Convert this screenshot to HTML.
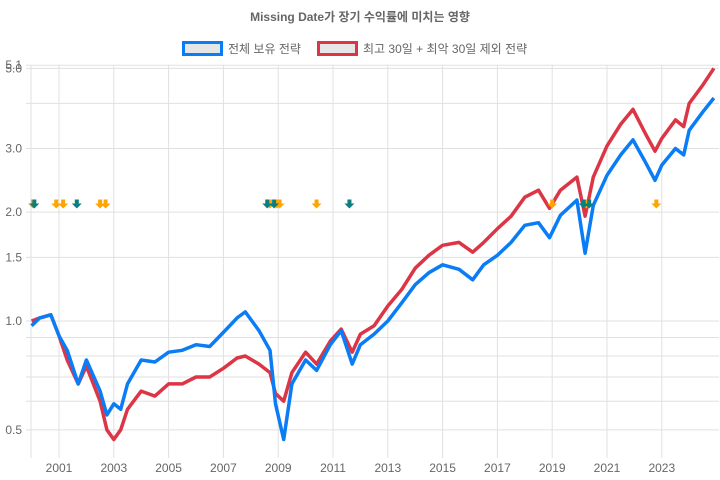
<!DOCTYPE html>
<html><head><meta charset="utf-8"><style>
html,body{margin:0;padding:0;background:#fff;}
svg{display:block;font-family:"Liberation Sans","Noto Sans CJK KR",sans-serif;}
</style></head><body>
<svg id="chart" width="720" height="480" viewBox="0 0 720 480">
<text x="360" y="21" text-anchor="middle" font-size="12" font-weight="bold" fill="#666">Missing Date가 장기 수익률에 미치는 영향</text>
<g>
<g>
<rect x="183.5" y="42.5" width="38" height="12" fill="#e6e6e6" stroke="#0a7cf5" stroke-width="3"/>
<text x="228" y="53" font-size="12" fill="#666">전체 보유 전략</text></g>
<g>
<rect x="318.5" y="42.5" width="38" height="12" fill="#e6e6e6" stroke="#dc3545" stroke-width="3"/>
<text x="363" y="53" font-size="12" fill="#666">최고 30일 + 최악 30일 제외 전략</text></g>
</g>
<g id="grid"></g><g id="lines"></g><g id="marks"></g><g id="axes"></g>
</svg>
<script>
const yTickVals=[0.5,0.6,0.7,0.8,0.9,1.0,1.5,2.0,3.0,4.0,5.0,5.1];
const yTickLabels=["0.5","","","","","1.0","1.5","2.0","3.0","","5.0","5.1"];
const xTickYears=[2001,2003,2005,2007,2009,2011,2013,2015,2017,2019,2021,2023];
const dates=[2000.0,2000.3,2000.7,2001.0,2001.3,2001.7,2002.0,2002.5,2002.75,2003.0,2003.25,2003.5,2004.0,2004.5,2005.0,2005.5,2006.0,2006.5,2007.0,2007.5,2007.8,2008.3,2008.7,2008.9,2009.2,2009.5,2010.0,2010.4,2010.9,2011.3,2011.7,2012.0,2012.5,2013.0,2013.5,2014.0,2014.5,2015.0,2015.6,2016.1,2016.5,2017.0,2017.5,2018.0,2018.5,2018.9,2019.3,2019.9,2020.2,2020.5,2021.0,2021.5,2021.95,2022.4,2022.75,2023.0,2023.5,2023.8,2024.0,2024.5,2024.9];
const buyHold=[0.97,1.02,1.04,0.91,0.83,0.67,0.78,0.64,0.55,0.59,0.57,0.67,0.78,0.77,0.82,0.83,0.86,0.85,0.93,1.02,1.06,0.94,0.83,0.59,0.47,0.67,0.78,0.73,0.86,0.94,0.76,0.86,0.92,1.0,1.12,1.26,1.36,1.43,1.39,1.30,1.43,1.52,1.65,1.84,1.87,1.70,1.96,2.16,1.54,2.09,2.53,2.88,3.17,2.75,2.45,2.70,3.0,2.88,3.37,3.79,4.14];
const excluded=[1.0,1.02,1.04,0.91,0.78,0.67,0.75,0.6,0.5,0.47,0.5,0.57,0.64,0.62,0.67,0.67,0.70,0.70,0.74,0.79,0.80,0.76,0.72,0.63,0.60,0.72,0.82,0.76,0.88,0.95,0.82,0.92,0.97,1.10,1.22,1.40,1.52,1.62,1.65,1.55,1.65,1.80,1.95,2.2,2.3,2.05,2.3,2.5,1.95,2.5,3.05,3.5,3.85,3.3,2.95,3.2,3.6,3.45,4.0,4.5,5.0];
const bestDays=[2000.05,2000.9,2001.15,2002.5,2002.7,2008.7,2008.95,2009.05,2010.4,2019.0,2020.25,2022.8];
const worstDays=[2000.1,2001.65,2008.6,2008.85,2011.6,2020.15,2020.35];
const markerValue=2.1;

const NS="http://www.w3.org/2000/svg";
const X0=31.6,PXY=27.4,L=31,R=719,T=65,B=452;
const xs=d=>X0+(d-2000)*PXY;
const ys=v=>321-Math.log(v)*157;
function mk(tag,attrs,parent){const e=document.createElementNS(NS,tag);for(const k in attrs)e.setAttribute(k,attrs[k]);parent.appendChild(e);return e;}
const grid=document.getElementById('grid'),axes=document.getElementById('axes'),lines=document.getElementById('lines'),marks=document.getElementById('marks');
yTickVals.forEach((v,i)=>{
  const y=ys(v);
  const g=mk('line',{x1:L-5,x2:R,y1:y,y2:y,stroke:'#e0e0e0','stroke-width':1},grid);
  
  
  if(yTickLabels[i]){
    const t=mk('text',{x:22,y:y+4,'text-anchor':'end','font-size':12,fill:'#666'},axes);
    t.textContent=yTickLabels[i];
    
    
  }
});
mk('line',{x1:L,x2:L,y1:T,y2:B+6,stroke:'#e0e0e0'},grid);
xTickYears.forEach(yr=>{
  const x=xs(yr);
  const g=mk('line',{x1:x,x2:x,y1:T,y2:B+6,stroke:'#e0e0e0'},grid);
  
  
  const t=mk('text',{x:x,y:472,'text-anchor':'middle','font-size':12,fill:'#666'},axes);
  t.textContent=String(yr);
  
  
});
function path(vals,color,name){
  const d=vals.map((v,i)=>(i?'L':'M')+xs(dates[i]).toFixed(1)+','+ys(v).toFixed(1)).join('');
  const p=mk('path',{d:d,fill:'none',stroke:color,'stroke-width':3.5,'stroke-linejoin':'round'},lines);
  
  
}
path(excluded,'#dc3545','excluded-days-line');
path(buyHold,'#0a7cf5','buy-hold-line');
function arrow(d,color,name){
  const x=xs(d),y=ys(markerValue);
  const p=mk('path',{d:`M${x-2},${y-5}h4v4h3l-5,5l-5,-5h3z`,fill:color},marks);
  
  
}
bestDays.forEach(d=>arrow(d,'#ffa500','best-day-marker'));
worstDays.forEach(d=>arrow(d,'#0b7f7f','worst-day-marker'));
</script>
</body></html>
